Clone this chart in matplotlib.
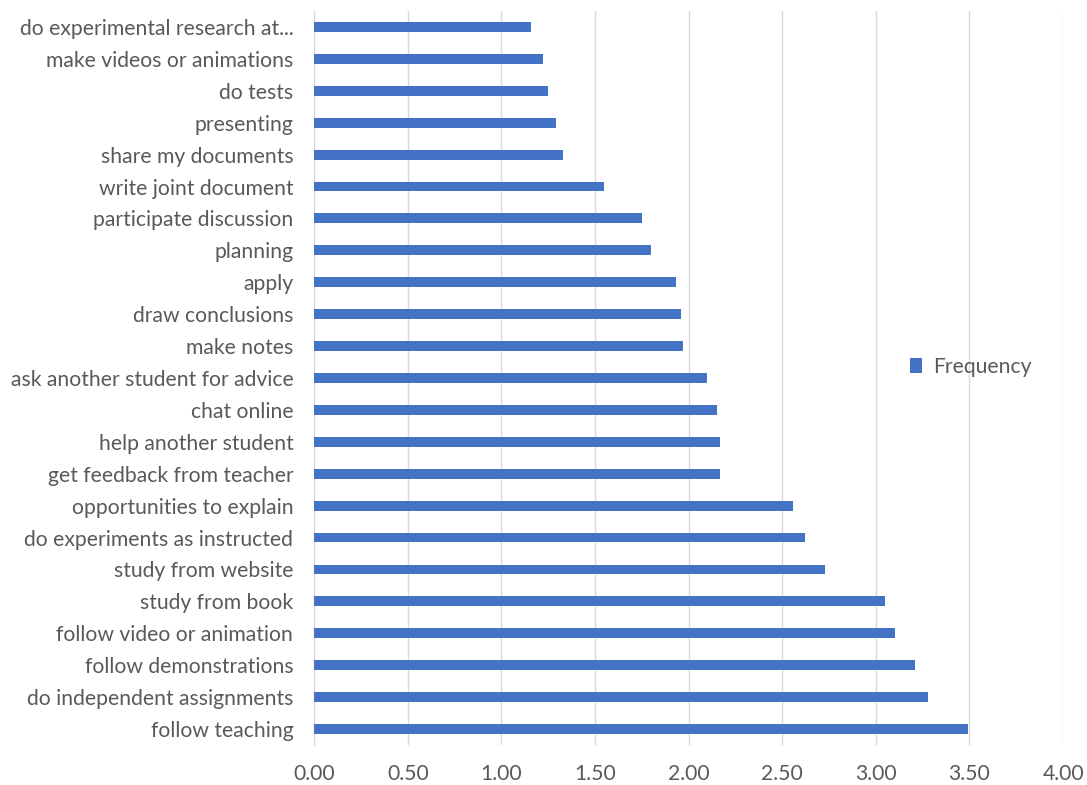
import matplotlib.pyplot as plt
import numpy as np

# categories from bottom to top
activities = [
    "follow teaching", "do independent assignments", "follow demonstrations",
    "follow video or animation", "study from book", "study from website",
    "do experiments as instructed", "opportunities to explain",
    "get feedback from teacher", "help another student", "chat online",
    "ask another student for advice", "make notes", "draw conclusions",
    "apply", "planning", "participate discussion", "write joint document",
    "share my documents", "presenting", "do tests",
    "make videos or animations", "do experimental research at...",
]
frequency = [
    3.49, 3.28, 3.21, 3.10, 3.05, 2.73, 2.62, 2.56,
    2.17, 2.17, 2.15, 2.10, 1.97, 1.96, 1.93, 1.80, 1.75, 1.55,
    1.33, 1.29, 1.25, 1.22, 1.16,
]
xticks = [0, 0.5, 1.0, 1.5, 2.0, 2.5, 3.0, 3.5, 4.0]

plt.rcParams['font.family'] = ['Lato', 'DejaVu Sans']
text_color = '#595959'

fig = plt.figure(figsize=(10.87, 7.85), dpi=100)
ax = fig.add_axes([0.289, 0.051, 0.689, 0.935])

y = np.arange(len(activities))
ax.barh(y, frequency, height=0.31, color='#4472C4', label='Frequency', zorder=3)

ax.set_xlim(0, 4)
ax.set_ylim(-0.5, len(activities) - 0.5)
ax.set_xticks(xticks)
ax.set_xticklabels(["%.2f" % t for t in xticks])
ax.set_yticks(y)
ax.set_yticklabels(activities)
ax.tick_params(length=0, labelsize=15.2, colors=text_color)
ax.tick_params(axis='y', pad=15)
ax.tick_params(axis='x', pad=14)

ax.grid(axis='x', color='#d9d9d9', linewidth=1, zorder=0)
for side in ['top', 'right', 'bottom']:
    ax.spines[side].set_visible(False)
ax.spines['left'].set_color('#d9d9d9')

leg = ax.legend(loc='center left', bbox_to_anchor=(0.77, 0.515), frameon=False,
                fontsize=15.2, handlelength=0.6, handleheight=0.7,
                handletextpad=0.5, labelcolor=text_color)

fig.savefig('out.png', dpi=100)
plt.close()
